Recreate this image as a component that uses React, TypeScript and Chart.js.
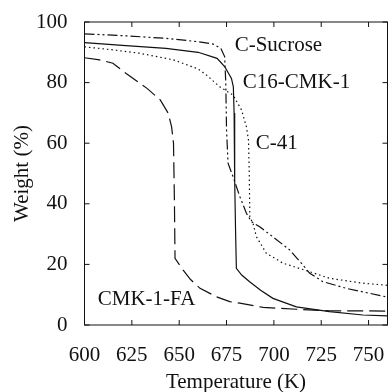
import React, { useEffect, useRef } from "react";
import { Chart, registerables } from "chart.js";

Chart.register(...registerables);

const xTicks = [600, 625, 650, 675, 700, 725, 750];
const yTicks = [0, 20, 40, 60, 80, 100];

const sucroseT = [600, 620, 643, 660, 668, 672, 674, 674.6, 675, 675.8, 678.4, 682, 685.5, 688.1, 692.5, 699.5, 708.3, 714.5, 718.9, 725.9, 738.2, 760];
const sucroseW = [96.1, 95.5, 94.6, 93.5, 92.7, 91.3, 88.6, 80, 64.4, 53.4, 49, 42.4, 36.9, 34.1, 32.4, 29.1, 24.8, 20.4, 17.1, 14.3, 12.1, 9.2];

const c16T = [600, 620, 643, 660, 670, 674, 677.6, 678.6, 679, 679.3, 679.8, 680.2, 683, 687.2, 693, 699.5, 711.9, 729.4, 747, 760];
const c16W = [93.2, 92.3, 91.3, 90, 88, 85.3, 81.4, 78.6, 70, 47.9, 30, 18.7, 16.5, 14.3, 11.5, 8.8, 6.0, 4.4, 3.3, 3.0];

const c41T = [600, 615, 629, 647, 660, 664.4, 671.4, 678.4, 682.9, 685.5, 686.6, 687, 687.3, 689, 690.8, 696, 704.8, 718.9, 729.4, 747, 760];
const c41W = [91.8, 90.8, 89.7, 87.5, 84.5, 82.5, 78.6, 75.9, 71, 65.4, 61, 50, 35.7, 33.5, 29.1, 23.7, 20.4, 17.6, 15.4, 13.8, 13.1];

const faT = [600, 608, 615, 622, 633, 640, 644.2, 646, 647, 647.5, 647.8, 652, 656, 661, 669.7, 676.7, 682, 694.3, 711.9, 729.4, 760];
const faW = [88.2, 87.5, 86.4, 83, 78.1, 74.3, 69.9, 65.4, 60, 40, 22, 18.2, 15, 12.1, 9.3, 7.7, 7.2, 5.8, 5.2, 4.7, 4.6];

const seriesNames = ["C-Sucrose", "C16-CMK-1", "C-41", "CMK-1-FA"];
const labelT = [679.3, 683.6, 690.4, 607];
const labelW = [92.4, 80.2, 60, 8.3];

const FONT = "'Liberation Serif', 'Times New Roman', serif";
const FS = 21;

function pts(t: number[], w: number[]) {
  return t.map((x, i) => ({ x, y: w[i] }));
}

const framePlugin = {
  id: "frame",
  afterDraw(chart: any) {
    const { ctx, chartArea: a, scales } = chart;
    const xs = scales.x;
    const ys = scales.y;
    ctx.save();
    ctx.strokeStyle = "#111";
    ctx.lineWidth = 1;
    ctx.strokeRect(a.left, a.top, a.right - a.left, a.bottom - a.top);
    ctx.beginPath();
    const tl = 5;
    xTicks.forEach((v) => {
      const px = xs.getPixelForValue(v);
      ctx.moveTo(px, a.bottom);
      ctx.lineTo(px, a.bottom - tl);
      ctx.moveTo(px, a.top);
      ctx.lineTo(px, a.top + tl);
    });
    yTicks.forEach((v) => {
      const py = ys.getPixelForValue(v);
      ctx.moveTo(a.left, py);
      ctx.lineTo(a.left + tl, py);
      ctx.moveTo(a.right, py);
      ctx.lineTo(a.right - tl, py);
    });
    ctx.stroke();
    ctx.fillStyle = "#111";
    ctx.font = `${FS}px ${FONT}`;
    ctx.textBaseline = "middle";
    ctx.textAlign = "left";
    seriesNames.forEach((n, i) => {
      ctx.fillText(n, xs.getPixelForValue(labelT[i]), ys.getPixelForValue(labelW[i]));
    });
    ctx.restore();
  },
};

export default function App() {
  const ref = useRef<HTMLCanvasElement>(null);
  useEffect(() => {
    document.body.style.margin = "0";
    const common = {
      borderColor: "#111",
      borderWidth: 1.2,
      pointRadius: 0,
      fill: false,
      tension: 0,
    };
    const chart = new Chart(ref.current!, {
      type: "line",
      data: {
        datasets: [
          { ...common, label: seriesNames[0], data: pts(sucroseT, sucroseW), borderDash: [10, 3, 2, 3, 2, 3] },
          { ...common, label: seriesNames[1], data: pts(c16T, c16W) },
          { ...common, label: seriesNames[2], data: pts(c41T, c41W), borderDash: [1.5, 3] },
          { ...common, label: seriesNames[3], data: pts(faT, faW), borderDash: [16, 6] },
        ],
      },
      options: {
        responsive: false,
        animation: false,
        layout: { padding: { top: 22, right: 0.5, left: 0, bottom: 0 } },
        plugins: { legend: { display: false }, tooltip: { enabled: false } },
        scales: {
          x: {
            type: "linear",
            min: 600,
            max: 760,
            afterBuildTicks: (s: any) => {
              s.ticks = xTicks.map((v) => ({ value: v }));
            },
            afterFit: (s: any) => {
              s.height = 67;
              s.paddingLeft = 0;
              s.paddingRight = 0;
            },
            grid: { display: false },
            border: { display: false },
            ticks: { color: "#111", font: { family: FONT, size: FS }, padding: 10, maxRotation: 0 },
            title: {
              display: true,
              text: "Temperature (K)",
              color: "#111",
              font: { family: FONT, size: FS, lineHeight: 1 },
              padding: { top: 0, bottom: -1 },
            },
          },
          y: {
            type: "linear",
            min: 0,
            max: 100,
            afterBuildTicks: (s: any) => {
              s.ticks = yTicks.map((v) => ({ value: v }));
            },
            afterFit: (s: any) => {
              s.width = 84.5;
              s.paddingTop = 0;
              s.paddingBottom = 0;
            },
            grid: { display: false },
            border: { display: false },
            ticks: { color: "#111", font: { family: FONT, size: FS }, padding: 9 },
            title: {
              display: true,
              text: "Weight (%)",
              color: "#111",
              font: { family: FONT, size: FS, lineHeight: 1 },
              padding: { top: 12, bottom: 0 },
            },
          },
        },
      },
      plugins: [framePlugin],
    });
    return () => chart.destroy();
  }, []);
  return (
    <div style={{ width: 388, height: 392 }}>
      <canvas ref={ref} width={388} height={392} />
    </div>
  );
}
